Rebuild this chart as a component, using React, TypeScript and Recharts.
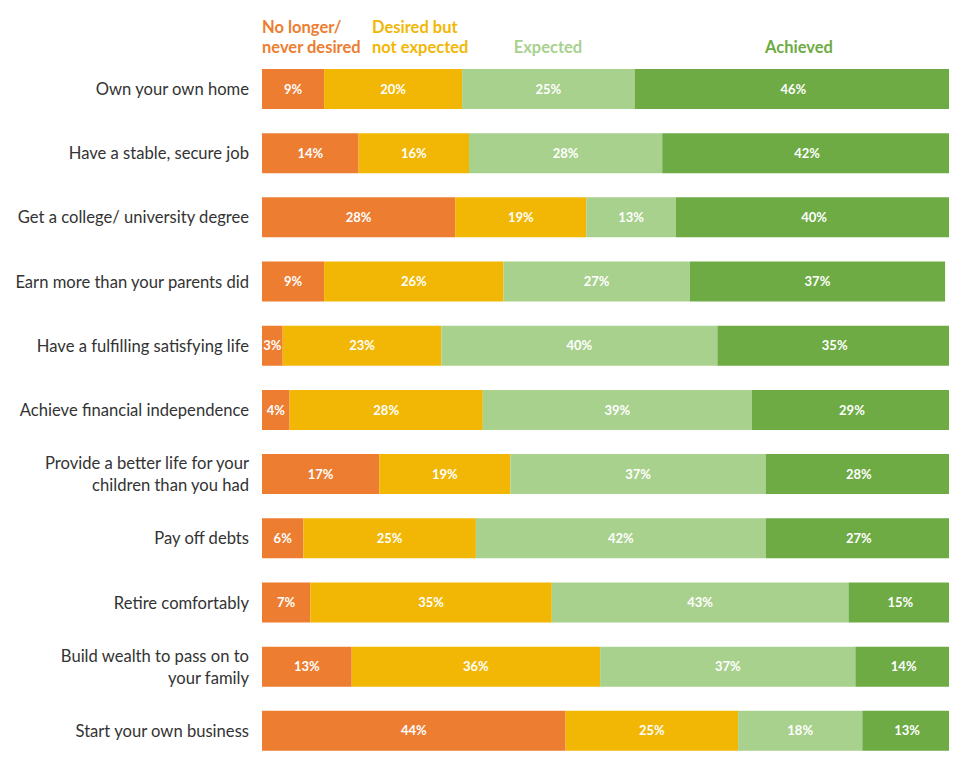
import { BarChart, Bar, XAxis, YAxis, Legend, LabelList } from "recharts";

const goals = [
  "Own your own home",
  "Have a stable, secure job",
  "Get a college/ university degree",
  "Earn more than your parents did",
  "Have a fulfilling satisfying life",
  "Achieve financial independence",
  "Provide a better life for your\nchildren than you had",
  "Pay off debts",
  "Retire comfortably",
  "Build wealth to pass on to\nyour family",
  "Start your own business",
];

const noLonger = [9, 14, 28, 9, 3, 4, 17, 6, 7, 13, 44];
const desiredNotExpected = [20, 16, 19, 26, 23, 28, 19, 25, 35, 36, 25];
const expected = [25, 28, 13, 27, 40, 39, 37, 42, 43, 37, 18];
const achieved = [46, 42, 40, 37, 35, 29, 28, 27, 15, 14, 13];

const data = goals.map((goal, i) => ({
  goal,
  noLonger: noLonger[i],
  desired: desiredNotExpected[i],
  expected: expected[i],
  achieved: achieved[i],
}));

const FONT = "Lato, 'Open Sans', sans-serif";

const series = [
  { key: "noLonger", name: "No longer/\nnever desired", color: "#ED7D31" },
  { key: "desired", name: "Desired but\nnot expected", color: "#F2B705" },
  { key: "expected", name: "Expected", color: "#A9D18E" },
  { key: "achieved", name: "Achieved", color: "#6EAB45" },
];

function GoalTick(props: any) {
  const { x, y, payload } = props;
  const lines = String(payload.value).split("\n");
  const lineH = 22;
  const startY = y - ((lines.length - 1) * lineH) / 2;
  return (
    <text
      x={x}
      y={startY}
      textAnchor="end"
      dominantBaseline="central"
      fontFamily={FONT}
      fontSize={16.6}
      fill="#333"
    >
      {lines.map((l, i) => (
        <tspan key={i} x={x} dy={i === 0 ? 0 : lineH}>
          {l}
        </tspan>
      ))}
    </text>
  );
}

// column headings sit above the bars like in the source slide
const headerPos = [
  { left: 254, align: "left" as const },
  { left: 364, align: "left" as const },
  { left: 490, width: 100, align: "center" as const },
  { left: 741, width: 100, align: "center" as const },
];

function Header() {
  return (
    <div style={{ position: "relative", width: 941, height: 48 }}>
      {series.map((s, i) => {
        const p = headerPos[i];
        return (
          <div
            key={s.key}
            style={{
              position: "absolute",
              left: p.left,
              width: p.width,
              bottom: -1,
              textAlign: p.align,
              color: s.color,
              fontFamily: FONT,
              fontWeight: 700,
              fontSize: 16.5,
              lineHeight: "20px",
              whiteSpace: "pre",
            }}
          >
            {s.name}
          </div>
        );
      })}
    </div>
  );
}

export default function App() {
  // keep the page from scrolling: svg overhangs the box by a few px
  return (
    <div style={{ width: 941, height: 752 }}>
      <BarChart
        width={949}
        height={755}
        data={data}
        layout="vertical"
        barCategoryGap={12}
        margin={{ top: 1, right: 5, bottom: 0, left: 0 }}
      >
        <Legend
          verticalAlign="top"
          content={() => <Header />}
          wrapperStyle={{ top: 0, left: 0, width: 941, height: 48 }}
        />
        <XAxis type="number" domain={[0, 100]} allowDataOverflow hide />
        <YAxis
          type="category"
          dataKey="goal"
          width={254}
          axisLine={false}
          tickLine={false}
          tick={<GoalTick />}
          tickMargin={7}
          interval={0}
        />
        {series.map((s) => (
          <Bar
            key={s.key}
            dataKey={s.key}
            stackId="a"
            fill={s.color}
            barSize={40}
            isAnimationActive={false}
          >
            <LabelList
              dataKey={s.key}
              position="center"
              formatter={(v: any) => `${v}%`}
              fill="#fff"
              fontFamily={FONT}
              fontWeight={700}
              fontSize={13}
            />
          </Bar>
        ))}
      </BarChart>
    </div>
  );
}
